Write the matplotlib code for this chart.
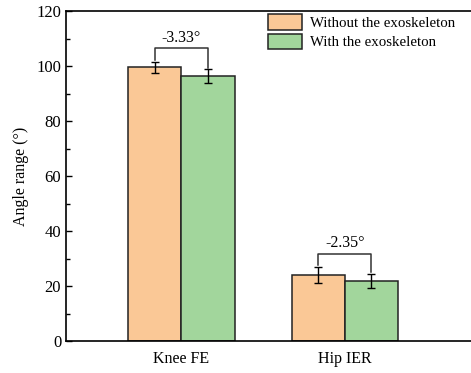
import matplotlib
matplotlib.use("Agg")
import matplotlib.pyplot as plt
import numpy as np
from matplotlib.ticker import MultipleLocator

plt.rcParams['font.family'] = ['Liberation Serif', 'DejaVu Serif']
plt.rcParams['mathtext.fontset'] = 'stix'

categories = ["Knee FE", "Hip IER"]
series_labels = ["Without the exoskeleton", "With the exoskeleton"]
without_vals = [99.6, 24.1]
without_err = [2.0, 2.85]
with_vals = [96.27, 21.75]
with_err = [2.55, 2.6]
diff_labels = ["-3.33°", "-2.35°"]

colors = ["#FAC896", "#A2D69C"]

fig = plt.figure(figsize=(4.71, 3.73), dpi=100)
ax = fig.add_axes([66 / 471, 32 / 373, 1 - 66 / 471 + 0.003, (341 - 11) / 373])

x = np.arange(len(categories))
w = 0.325
b1 = ax.bar(x - w / 2, without_vals, w, color=colors[0], edgecolor="#222222",
            linewidth=1.1, label=series_labels[0], zorder=2)
b2 = ax.bar(x + w / 2, with_vals, w, color=colors[1], edgecolor="#222222",
            linewidth=1.1, label=series_labels[1], zorder=2)
ax.errorbar(x - w / 2, without_vals, yerr=without_err, fmt="none", ecolor="black",
            elinewidth=1.0, capsize=2.6, capthick=1.0, zorder=3)
ax.errorbar(x + w / 2, with_vals, yerr=with_err, fmt="none", ecolor="black",
            elinewidth=1.0, capsize=2.6, capthick=1.0, zorder=3)

# significance brackets with the change between conditions
for i in range(len(categories)):
    top_l = without_vals[i] + without_err[i]
    top_r = with_vals[i] + with_err[i]
    y_bar = max(top_l, top_r) + 4.8
    xl, xr = x[i] - w / 2, x[i] + w / 2
    ax.plot([xl, xl, xr, xr], [top_l + 0.6, y_bar, y_bar, top_r + 0.6],
            color="#333333", linewidth=1.1, zorder=3)
    ax.text(x[i], y_bar + 1.0, diff_labels[i], ha="center", va="bottom", fontsize=11.5)

ax.set_xlim(-0.706, 1.78)
ax.set_ylim(0, 120)
ax.set_xticks(x)
ax.set_xticklabels(categories, fontsize=11.5)
ax.tick_params(axis="x", length=0, pad=7)
ax.yaxis.set_major_locator(MultipleLocator(20))
ax.yaxis.set_minor_locator(MultipleLocator(10))
ax.tick_params(axis="y", which="major", direction="in", length=4.5, width=1.0, labelsize=12)
ax.tick_params(axis="y", which="minor", direction="in", length=2.8, width=1.0)
ax.set_ylabel("Angle range (°)", fontsize=11.5, labelpad=5)

for s in ["left", "bottom", "top"]:
    ax.spines[s].set_linewidth(1.2)
ax.spines["right"].set_visible(False)

ax.legend(loc="upper left", bbox_to_anchor=(0.479, 1.012), frameon=False, fontsize=10.7,
          handlelength=2.25, handleheight=1.25, handletextpad=0.6, labelspacing=0.22,
          borderaxespad=0.1)

fig.savefig("out.png", dpi=100)
